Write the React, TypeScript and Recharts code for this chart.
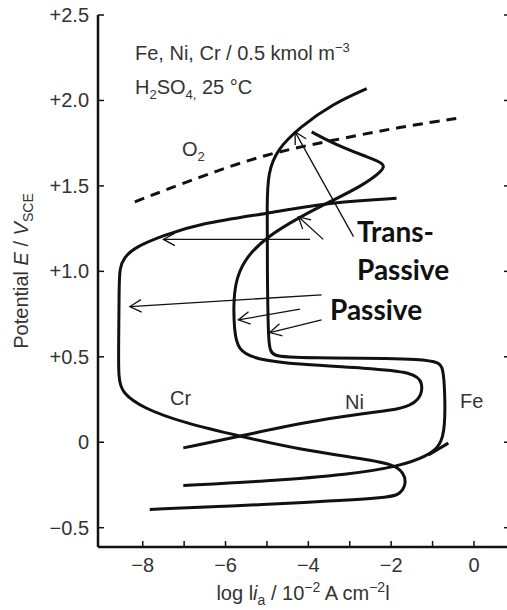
import React from "react";
import { ComposedChart, Line, XAxis, YAxis, ReferenceLine, Customized } from "recharts";

// [log|ia|, E] pairs
const crCurve = [
  [-1.87, 1.427], [-3.4, 1.407], [-5.0, 1.339], [-6.62, 1.28], [-7.5, 1.21], [-8.2, 1.14],
  [-8.45, 1.08], [-8.56, 1.02], [-8.57, 0.9], [-8.58, 0.6], [-8.59, 0.37], [-8.5, 0.29],
  [-8.0, 0.2], [-7.0, 0.113], [-5.65, 0.035], [-4.2, -0.043], [-2.6, -0.1], [-1.95, -0.13],
  [-1.7, -0.175], [-1.63, -0.245], [-1.79, -0.305], [-2.05, -0.325], [-4.2, -0.354],
  [-5.8, -0.373], [-7.83, -0.393],
];
const niCurve = [
  [-3.92, 1.816], [-3.4, 1.748], [-2.59, 1.67], [-2.15, 1.631], [-2.19, 1.59], [-2.75, 1.494],
  [-3.4, 1.417], [-4.2, 1.319], [-5.0, 1.203], [-5.49, 1.086], [-5.73, 0.969], [-5.81, 0.833],
  [-5.79, 0.65], [-5.7, 0.54], [-5.3, 0.485], [-4.2, 0.454], [-2.6, 0.434], [-1.45, 0.41],
  [-1.22, 0.35], [-1.3, 0.24], [-1.79, 0.191], [-2.6, 0.172], [-4.2, 0.113], [-5.65, 0.035],
  [-7.02, -0.033],
];
const feCurve = [
  [-2.59, 2.069], [-3.4, 1.981], [-4.2, 1.845], [-4.77, 1.709], [-4.97, 1.573], [-5.0, 1.417],
  [-4.99, 1.0], [-4.97, 0.56], [-4.88, 0.5], [-4.2, 0.493], [-0.9, 0.493], [-0.74, 0.444],
  [-0.7, 0.27], [-0.7, 0.093], [-0.8, -0.02], [-1.14, -0.082], [-1.79, -0.14], [-3.0, -0.189],
  [-5.0, -0.228], [-7.02, -0.253],
];
const feTail = [[-1.1, -0.075], [-0.62, -0.005]];
const o2Line = [[-8.19, 1.407], [-6.62, 1.553], [-5.0, 1.689], [-3.4, 1.767], [-1.79, 1.845], [-0.26, 1.9]];

// arrows: [fromX, fromY, toX, toY]
const transArrows = [
  [-3.96, 1.187, -7.5, 1.187],
  [-3.64, 1.187, -4.24, 1.319],
  [-2.91, 1.203, -4.32, 1.816],
];
const passiveArrows = [
  [-3.68, 0.862, -8.31, 0.794],
  [-4.2, 0.779, -5.69, 0.716],
  [-3.68, 0.716, -4.93, 0.642],
];

const xTicks = [-8, -7, -6, -5, -4, -3, -2, -1, 0];
const xLabelTicks = [-8, -6, -4, -2, 0];
const yTicks = [-0.5, 0, 0.5, 1.0, 1.5, 2.0, 2.5];

const toPts = (arr: number[][]) => arr.map(([x, y]) => ({ x, y }));

const INK = "#111";
const TXT = "#333";
const FONT = "'Liberation Sans', Arial, sans-serif";

const fmtX = (v: number) => (v < 0 ? "\u2212" + Math.abs(v) : String(v));
const fmtY = (v: number) => (v > 0 ? "+" + v.toFixed(1) : v < 0 ? "\u2212" + Math.abs(v).toFixed(1) : "0");

const BottomTick = (p: any) => (
  <g>
    <line x1={p.x} y1={p.y} x2={p.x} y2={p.y - 6} stroke={INK} strokeWidth={1.5} />
    {xLabelTicks.includes(p.payload.value) && (
      <text x={p.x} y={p.y + 25} textAnchor="middle" fontSize={20} fill={TXT} fontFamily={FONT}>
        {fmtX(p.payload.value)}
      </text>
    )}
  </g>
);
const TopTick = (p: any) => <line x1={p.x} y1={p.y} x2={p.x} y2={p.y + 6} stroke={INK} strokeWidth={1.5} />;
const LeftTick = (p: any) => (
  <g>
    <line x1={p.x} y1={p.y} x2={p.x + 6} y2={p.y} stroke={INK} strokeWidth={1.5} />
    <text x={p.x - 9} y={p.y + 7} textAnchor="end" fontSize={20} fill={TXT} fontFamily={FONT}>
      {fmtY(p.payload.value)}
    </text>
  </g>
);
const RightTick = (p: any) => <line x1={p.x} y1={p.y} x2={p.x - 6} y2={p.y} stroke={INK} strokeWidth={1.5} />;

const Arrow = (p: any) => {
  const { x1, y1, x2, y2 } = p;
  const a = Math.atan2(y2 - y1, x2 - x1);
  const len = 13;
  const sp = 0.5;
  const ax = x2 - len * Math.cos(a - sp);
  const ay = y2 - len * Math.sin(a - sp);
  const bx = x2 - len * Math.cos(a + sp);
  const by = y2 - len * Math.sin(a + sp);
  return (
    <g>
      <line x1={x1} y1={y1} x2={x2} y2={y2} stroke={INK} strokeWidth={1.3} />
      <polyline points={`${ax},${ay} ${x2},${y2} ${bx},${by}`} fill="none" stroke={INK} strokeWidth={1.3} />
    </g>
  );
};

const Annotations = () => (
  <g fontFamily={FONT} fill={TXT}>
    <text x={135} y={60} fontSize={20}>
      Fe, Ni, Cr / 0.5 kmol m<tspan dy={-8} fontSize={13}>{"\u22123"}</tspan>
    </text>
    <text x={135} y={94} fontSize={20}>
      H<tspan dy={5} fontSize={13}>2</tspan>
      <tspan dy={-5}>SO</tspan>
      <tspan dy={5} fontSize={13}>4,</tspan>
      <tspan dy={-5}> 25 °C</tspan>
    </text>
    <text x={182} y={156} fontSize={20}>
      O<tspan dy={5} fontSize={13}>2</tspan>
    </text>
    <text x={170} y={405} fontSize={20}>Cr</text>
    <text x={345} y={409} fontSize={20}>Ni</text>
    <text x={460} y={408} fontSize={20}>Fe</text>
    <g fontFamily="Lato, 'Open Sans', sans-serif" fontWeight="bold" fontSize={28} fill="#111">
      <text x={357} y={242}>Trans-</text>
      <text x={357} y={280}>Passive</text>
      <text x={330} y={320}>Passive</text>
    </g>
    <text x={303} y={600} textAnchor="middle" fontSize={20}>
      log l<tspan fontStyle="italic">i</tspan>
      <tspan dy={5} fontSize={14}>a</tspan>
      <tspan dy={-5}> / 10</tspan>
      <tspan dy={-8} fontSize={14}>{"\u22122"}</tspan>
      <tspan dy={8}> A cm</tspan>
      <tspan dy={-8} fontSize={14}>{"\u22122"}</tspan>
      <tspan dy={8}>l</tspan>
    </text>
    <text x={28} y={271} textAnchor="middle" fontSize={20} transform="rotate(-90, 28, 271)">
      Potential <tspan fontStyle="italic">E</tspan> / <tspan fontStyle="italic">V</tspan>
      <tspan dy={5} fontSize={14}>SCE</tspan>
    </text>
  </g>
);

export default function App() {
  const axisLine = { stroke: INK, strokeWidth: 2.5 };
  const series = [crCurve, niCurve, feCurve, feTail];
  return (
    <div style={{ position: "absolute", left: 0, top: 0, width: 507, height: 610, overflow: "hidden", background: "#fff" }}>
      <ComposedChart width={512} height={610} margin={{ top: 15, right: 1, bottom: 0, left: 0 }}>
        <XAxis
          dataKey="x" type="number" domain={[-9.08, 0.87]} ticks={xTicks} interval={0}
          allowDataOverflow height={63} tickSize={0} tickMargin={0} axisLine={axisLine} tick={(p: any) => <BottomTick {...p} />}
        />
        <XAxis
          xAxisId="top" orientation="top" dataKey="x" type="number" domain={[-9.08, 0.87]} ticks={xTicks} interval={0}
          allowDataOverflow height={0} tickSize={0} tickMargin={0} axisLine={axisLine} tick={(p: any) => <TopTick {...p} />}
        />
        <YAxis
          dataKey="y" type="number" domain={[-0.613, 2.5]} ticks={yTicks} interval={0}
          allowDataOverflow width={98} tickSize={0} tickMargin={0} axisLine={axisLine} tick={(p: any) => <LeftTick {...p} />}
        />
        <YAxis
          yAxisId="right" orientation="right" dataKey="y" type="number" domain={[-0.613, 2.5]} ticks={yTicks} interval={0}
          allowDataOverflow width={1} tickSize={0} tickMargin={0} axisLine={axisLine} tick={(p: any) => <RightTick {...p} />}
        />
        {series.map((s, i) => (
          <Line
            key={i} data={toPts(s)} dataKey="y" type="basis" stroke={INK} strokeWidth={3}
            dot={false} activeDot={false} isAnimationActive={false}
          />
        ))}
        <Line
          data={toPts(o2Line)} dataKey="y" type="basis" stroke={INK} strokeWidth={3} strokeDasharray="10 7"
          dot={false} activeDot={false} isAnimationActive={false}
        />
        {[...transArrows, ...passiveArrows].map(([fx, fy, tx, ty], i) => (
          <ReferenceLine
            key={"a" + i} segment={[{ x: fx, y: fy }, { x: tx, y: ty }]} ifOverflow="visible"
            shape={(p: any) => <Arrow {...p} />}
          />
        ))}
        <Customized component={Annotations} />
      </ComposedChart>
    </div>
  );
}
